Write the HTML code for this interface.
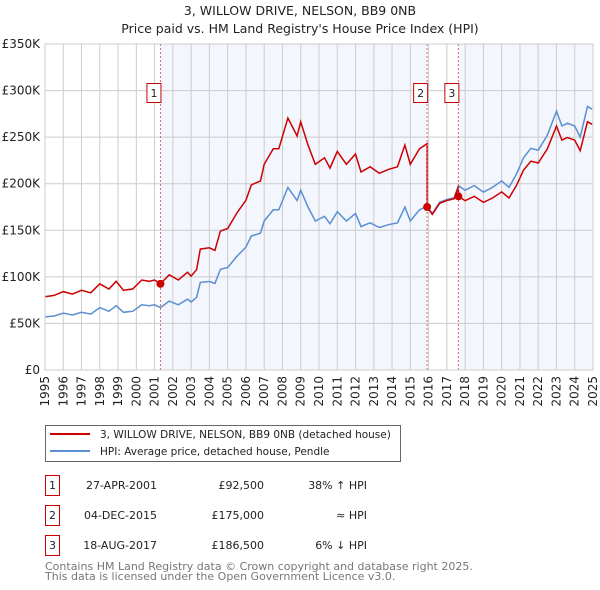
<!DOCTYPE html>
<html><head><meta charset="utf-8"><style>
body{margin:0;background:#fff}
svg{display:block;font-family:"DejaVu Sans","Liberation Sans",sans-serif}
</style></head><body>
<svg id="chart" width="600" height="590" viewBox="0 0 600 590">
<text x="300" y="15" text-anchor="middle" font-size="12.5" fill="#222">3, WILLOW DRIVE, NELSON, BB9 0NB</text>
<text x="300" y="33" text-anchor="middle" font-size="12.5" fill="#222">Price paid vs. HM Land Registry's House Price Index (HPI)</text>
<g id="plot"></g>
<g>
<rect x="45.5" y="425.5" width="355" height="36" fill="#fff" stroke="#666"/>
<line x1="50" y1="434" x2="90" y2="434" stroke="#cc0000" stroke-width="2"/>
<text x="100" y="438" font-size="10.5" fill="#222">3, WILLOW DRIVE, NELSON, BB9 0NB (detached house)</text>
<line x1="50" y1="451" x2="90" y2="451" stroke="#5b8fd1" stroke-width="2"/>
<text x="100" y="455" font-size="10.5" fill="#222">HPI: Average price, detached house, Pendle</text>
</g>
<g font-size="11" fill="#222">
<rect x="45.5" y="475.5" width="14" height="20" fill="#fff" stroke="#cc0000"/><text x="52.5" y="489" text-anchor="middle">1</text>
<text x="157" y="489" text-anchor="end">27-APR-2001</text><text x="264" y="489" text-anchor="end">£92,500</text><text x="367" y="489" text-anchor="end">38% ↑ HPI</text>
<rect x="45.5" y="505.5" width="14" height="20" fill="#fff" stroke="#cc0000"/><text x="52.5" y="519" text-anchor="middle">2</text>
<text x="157" y="519" text-anchor="end">04-DEC-2015</text><text x="264" y="519" text-anchor="end">£175,000</text><text x="367" y="519" text-anchor="end">≈ HPI</text>
<rect x="45.5" y="535.5" width="14" height="20" fill="#fff" stroke="#cc0000"/><text x="52.5" y="549" text-anchor="middle">3</text>
<text x="157" y="549" text-anchor="end">18-AUG-2017</text><text x="264" y="549" text-anchor="end">£186,500</text><text x="367" y="549" text-anchor="end">6% ↓ HPI</text>
</g>
<text x="45" y="570" font-size="11" fill="#777">Contains HM Land Registry data © Crown copyright and database right 2025.</text>
<text x="45" y="580" font-size="11" fill="#777">This data is licensed under the Open Government Licence v3.0.</text>
</svg>
<script>
const hpiYears=[1995,1995.5,1996,1996.5,1997,1997.5,1998,1998.5,1998.9,1999.3,1999.8,2000.3,2000.7,2001,2001.32,2001.8,2002.3,2002.8,2003,2003.3,2003.5,2004,2004.3,2004.6,2005,2005.5,2006,2006.3,2006.8,2007,2007.5,2007.8,2008.3,2008.8,2009,2009.4,2009.8,2010.3,2010.6,2011,2011.5,2012,2012.3,2012.8,2013.3,2013.8,2014.3,2014.7,2015,2015.5,2015.92,2016.2,2016.6,2017,2017.4,2017.63,2018,2018.5,2019,2019.5,2020,2020.4,2020.8,2021.2,2021.6,2022,2022.5,2023,2023.3,2023.6,2024,2024.3,2024.7,2024.95];
const hpiValues=[57,58,61,59,62,60,67,63,69,62,63,70,69,70,67,74,70,76,73,78,94,95,93,108,110,122,132,144,147,160,172,172,196,182,193,175,160,165,157,170,160,168,154,158,153,156,158,175,160,172,176,168,180,183,185,198,193,198,191,196,203,196,210,228,238,236,252,278,262,265,262,250,283,280];
const saleYears=[2001.32,2015.92,2017.63];
const salePrices=[92.5,175,186.5];
const saleLabels=["1","2","3"];
const yTicks=[0,50,100,150,200,250,300,350];
const yTickLabels=["£0","£50K","£100K","£150K","£200K","£250K","£300K","£350K"];
const xTicks=[];for(let y=1995;y<=2025;y++)xTicks.push(y);

const X0=45,X1=593,Y0=370,Y1=44;
const xs=t=>X0+(t-1995)*(X1-X0)/30;
const ys=v=>Y0-v*(Y0-Y1)/350;
const NS="http://www.w3.org/2000/svg";
const g=document.getElementById('plot');
function mk(tag,a,parent){const e=document.createElementNS(NS,tag);for(const k in a)e.setAttribute(k,a[k]);(parent||g).appendChild(e);return e;}
function hpiAt(t){for(let i=0;i<hpiYears.length-1;i++){if(t>=hpiYears[i]&&t<=hpiYears[i+1]){const f=(t-hpiYears[i])/(hpiYears[i+1]-hpiYears[i]);return hpiValues[i]+f*(hpiValues[i+1]-hpiValues[i]);}}return hpiValues[hpiValues.length-1];}

let sh=mk('rect',{x:xs(saleYears[0]),y:Y1,width:xs(saleYears[1])-xs(saleYears[0]),height:Y0-Y1,fill:'#f3f6fd'});


sh=mk('rect',{x:xs(saleYears[2]),y:Y1,width:X1-xs(saleYears[2]),height:Y0-Y1,fill:'#f3f6fd'});


yTicks.forEach((v,i)=>{
  const l=mk('line',{x1:X0,x2:X1,y1:ys(v),y2:ys(v),stroke:'#cccccc','stroke-width':1});
  
  
  const t=mk('text',{x:X0-5,y:ys(v)+4,'text-anchor':'end','font-size':12,fill:'#222'});
  t.textContent=yTickLabels[i];
  
  
});
xTicks.forEach(y=>{
  const l=mk('line',{x1:xs(y),x2:xs(y),y1:Y1,y2:Y0,stroke:'#cccccc','stroke-width':1});
  
  
  const t=mk('text',{x:0,y:0,'text-anchor':'end','font-size':12,fill:'#222',transform:`translate(${xs(y)+4},${Y0+6}) rotate(-90)`});
  t.textContent=y;
  
  
});
const hp=mk('path',{d:hpiYears.map((t,i)=>(i?'L':'M')+xs(t).toFixed(1)+','+ys(hpiValues[i]).toFixed(1)).join(''),fill:'none',stroke:'#5b8fd1','stroke-width':1.5});


function factorAt(t){let k=0;for(let i=0;i<saleYears.length;i++)if(t>=saleYears[i])k=i;return salePrices[k]/hpiAt(saleYears[k]);}
let pts=[];
hpiYears.forEach((t,i)=>{
  saleYears.forEach((s,j)=>{if(j>0&&t>=s&&(i===0||hpiYears[i-1]<s)){pts.push([s,hpiAt(s)*factorAt(s-1e-6)]);pts.push([s,salePrices[j]]);}});
  pts.push([t,hpiValues[i]*factorAt(t)]);
});
const pp=mk('path',{d:pts.map((p,i)=>(i?'L':'M')+xs(p[0]).toFixed(1)+','+ys(p[1]).toFixed(1)).join(''),fill:'none',stroke:'#cc0000','stroke-width':1.5});


saleYears.forEach((s,i)=>{
  const l=mk('line',{x1:xs(s),x2:xs(s),y1:Y1,y2:Y0,stroke:'#e06060','stroke-width':1,'stroke-dasharray':'2,2'});
  
  
  const c=mk('circle',{cx:xs(s),cy:ys(salePrices[i]),r:4,fill:'#cc0000'});
  
  
  const r=mk('rect',{x:xs(s)-13.5,y:83.5,width:14,height:19,fill:'#fff',stroke:'#cc0000'});
  
  
  const t=mk('text',{x:xs(s)-6.5,y:97,'text-anchor':'middle','font-size':11,fill:'#222'});
  t.textContent=saleLabels[i];
  
  
});
const ax=mk('rect',{x:X0,y:Y1,width:X1-X0,height:Y0-Y1,fill:'none',stroke:'#cccccc'});


</script>
</body></html>
